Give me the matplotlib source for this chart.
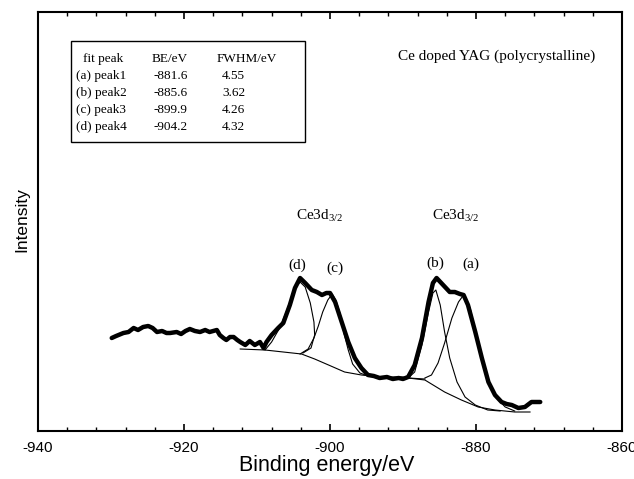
import matplotlib
matplotlib.use('Agg')
import matplotlib.pyplot as plt
from matplotlib.patches import Rectangle

plt.rcParams['font.family'] = 'Liberation Sans'
plt.rcParams['axes.unicode_minus'] = False
plt.rcParams['mathtext.fontset'] = 'custom'
plt.rcParams['mathtext.rm'] = 'Liberation Serif'
plt.rcParams['mathtext.it'] = 'Liberation Serif:italic'

# measured spectrum (binding energy in eV, intensity in a.u.)
be_data = [-929.9, -929.3, -928.3, -927.6, -926.9, -926.3, -925.6, -924.9, -924.3, -923.7,
           -923.0, -922.4, -921.9, -921.0, -920.4, -919.8, -919.2, -918.5, -917.8, -917.1,
           -916.5, -916.0, -915.5, -915.1, -914.6, -914.2, -913.7, -913.2, -912.7, -912.3,
           -911.6, -911.0, -910.3, -909.6, -909.1, -908.7, -908.0, -907.1, -906.4, -905.5,
           -904.8, -904.1, -903.4, -902.5, -901.8, -901.1, -900.5, -900.0, -899.3, -898.4,
           -897.5, -896.6, -895.7, -894.8, -894.0, -893.2, -892.2, -891.4, -890.6, -890.0,
           -889.3, -888.4, -887.4, -886.5, -885.9, -885.4, -884.5, -883.6, -882.9, -882.2,
           -881.7, -881.1, -880.1, -879.2, -878.3, -877.4, -876.5, -875.8, -875.1, -874.2,
           -873.3, -872.4, -871.2]
int_data = [93, 95, 98, 99, 103, 101, 104, 105, 103, 99,
            100, 98, 98, 99, 97, 100, 102, 100, 99, 101,
            99, 100, 101, 96, 93, 91, 94, 94, 91, 89,
            86, 90, 86, 89, 83, 89, 96, 103, 108, 126,
            143, 153, 148, 141, 139, 136, 138, 138, 129, 109,
            89, 73, 63, 56, 55, 53, 54, 52, 53, 52,
            54, 66, 93, 129, 148, 153, 146, 139, 139, 137,
            136, 126, 99, 73, 49, 36, 29, 27, 26, 23,
            24, 29, 29]

# backgrounds
be_bg1 = [-912.3, -908.9, -903.9, -902.1, -900.2, -898.0, -895.7, -893.2, -890.0, -889.3, -887.0]
int_bg1 = [82, 81, 77, 72, 66, 59, 56, 54, 54, 53, 52]
be_bg2 = [-889.3, -887.0, -884.3, -882.0, -879.7, -877.4, -874.7, -872.6]
int_bg2 = [53, 51, 39, 31, 24, 21, 19, 19]

# fitted peaks
be_d = [-908.9, -908.0, -906.9, -906.0, -905.3, -904.7, -904.1, -903.4, -902.7, -902.2, -902.1, -902.6, -903.7]
int_d = [81, 89, 103, 119, 133, 144, 149, 144, 128, 109, 96, 83, 78]
be_c = [-904.1, -903.0, -902.2, -901.6, -901.0, -900.3, -899.7, -899.2, -898.6, -898.1, -897.5, -896.9, -895.9, -894.8]
int_c = [77, 82, 93, 105, 119, 131, 137, 131, 117, 98, 81, 67, 58, 55]
be_b = [-889.3, -888.4, -887.4, -886.5, -885.9, -885.5, -884.9, -884.3, -883.6, -882.6, -881.5, -880.1, -878.4, -876.7]
int_b = [53, 59, 86, 119, 138, 141, 126, 99, 73, 49, 34, 26, 21, 20]
be_a = [-887.0, -886.1, -885.2, -884.3, -883.3, -882.4, -881.7, -880.8, -879.9, -879.0, -878.1, -877.2, -876.0, -874.7]
int_a = [53, 56, 68, 88, 113, 129, 136, 123, 93, 66, 46, 33, 24, 20]

table_head = ['fit peak', 'BE/eV', 'FWHM/eV']
peak_names = ['(a) peak1', '(b) peak2', '(c) peak3', '(d) peak4']
peak_be = ['-881.6', '-885.6', '-899.9', '-904.2']
peak_fwhm = ['4.55', '3.62', '4.26', '4.32']

W, H = 634, 479
fig = plt.figure(figsize=(W / 100, H / 100), dpi=100)
ax = fig.add_axes([38 / W, 48 / H, 584 / W, 419 / H])

for xs, ys in [(be_bg1, int_bg1), (be_bg2, int_bg2), (be_d, int_d), (be_c, int_c),
               (be_b, int_b), (be_a, int_a)]:
    ax.plot(xs, ys, color='black', lw=0.8)
ax.plot(be_data, int_data, color='black', lw=3.2, solid_joinstyle='round', solid_capstyle='round')

ax.set_xlim(-940, -860)
ax.set_ylim(0, 419)
ax.set_xticks(range(-940, -859, 20))
ax.set_xticks(range(-940, -859, 4), minor=True)
ax.set_yticks([])
ax.tick_params(axis='x', which='both', direction='in', top=True, labelsize=11, pad=7)
ax.tick_params(axis='x', which='major', length=5, width=1.2)
ax.tick_params(axis='x', which='minor', length=3, width=1.0)
for s in ax.spines.values():
    s.set_linewidth(1.5)

fig.text(327 / W, 1 - 466 / H, 'Binding energy/eV', fontsize=15.5, ha='center', va='center')
fig.text(22 / W, 1 - 220 / H, 'Intensity', fontsize=12.5, rotation=90, ha='center', va='center')

serif = 'Liberation Serif'
fig.text(497 / W, 1 - 56 / H, 'Ce doped YAG (polycrystalline)', family=serif, fontsize=11,
         ha='center', va='center')
fig.text(320 / W, 1 - 216 / H, r'Ce3d$_{\mathregular{3/2}}$', family=serif, fontsize=11,
         ha='center', va='center')
fig.text(456 / W, 1 - 216 / H, r'Ce3d$_{\mathregular{3/2}}$', family=serif, fontsize=11,
         ha='center', va='center')
for lab, px, py in [('(d)', 297, 265), ('(c)', 335, 268), ('(b)', 435, 263), ('(a)', 471, 264)]:
    fig.text(px / W, 1 - py / H, lab, family=serif, fontsize=11, ha='center', va='center')

# fit table
fig.add_artist(Rectangle((71 / W, 1 - 142 / H), 234 / W, 101 / H, transform=fig.transFigure,
                         fill=False, lw=1.0, color='black'))
fs = 9.5
fig.text(83 / W, 1 - 59 / H, table_head[0], family=serif, fontsize=fs, va='center')
fig.text(152 / W, 1 - 59 / H, table_head[1], family=serif, fontsize=fs, va='center')
fig.text(217 / W, 1 - 59 / H, table_head[2], family=serif, fontsize=fs, va='center')
for i in range(4):
    yy = 1 - (76 + 17 * i) / H
    fig.text(76 / W, yy, peak_names[i], family=serif, fontsize=fs, va='center')
    fig.text(153 / W, yy, peak_be[i], family=serif, fontsize=fs, va='center')
    fig.text(222 / W, yy, peak_fwhm[i], family=serif, fontsize=fs, va='center')

fig.savefig('out.png', dpi=100)
